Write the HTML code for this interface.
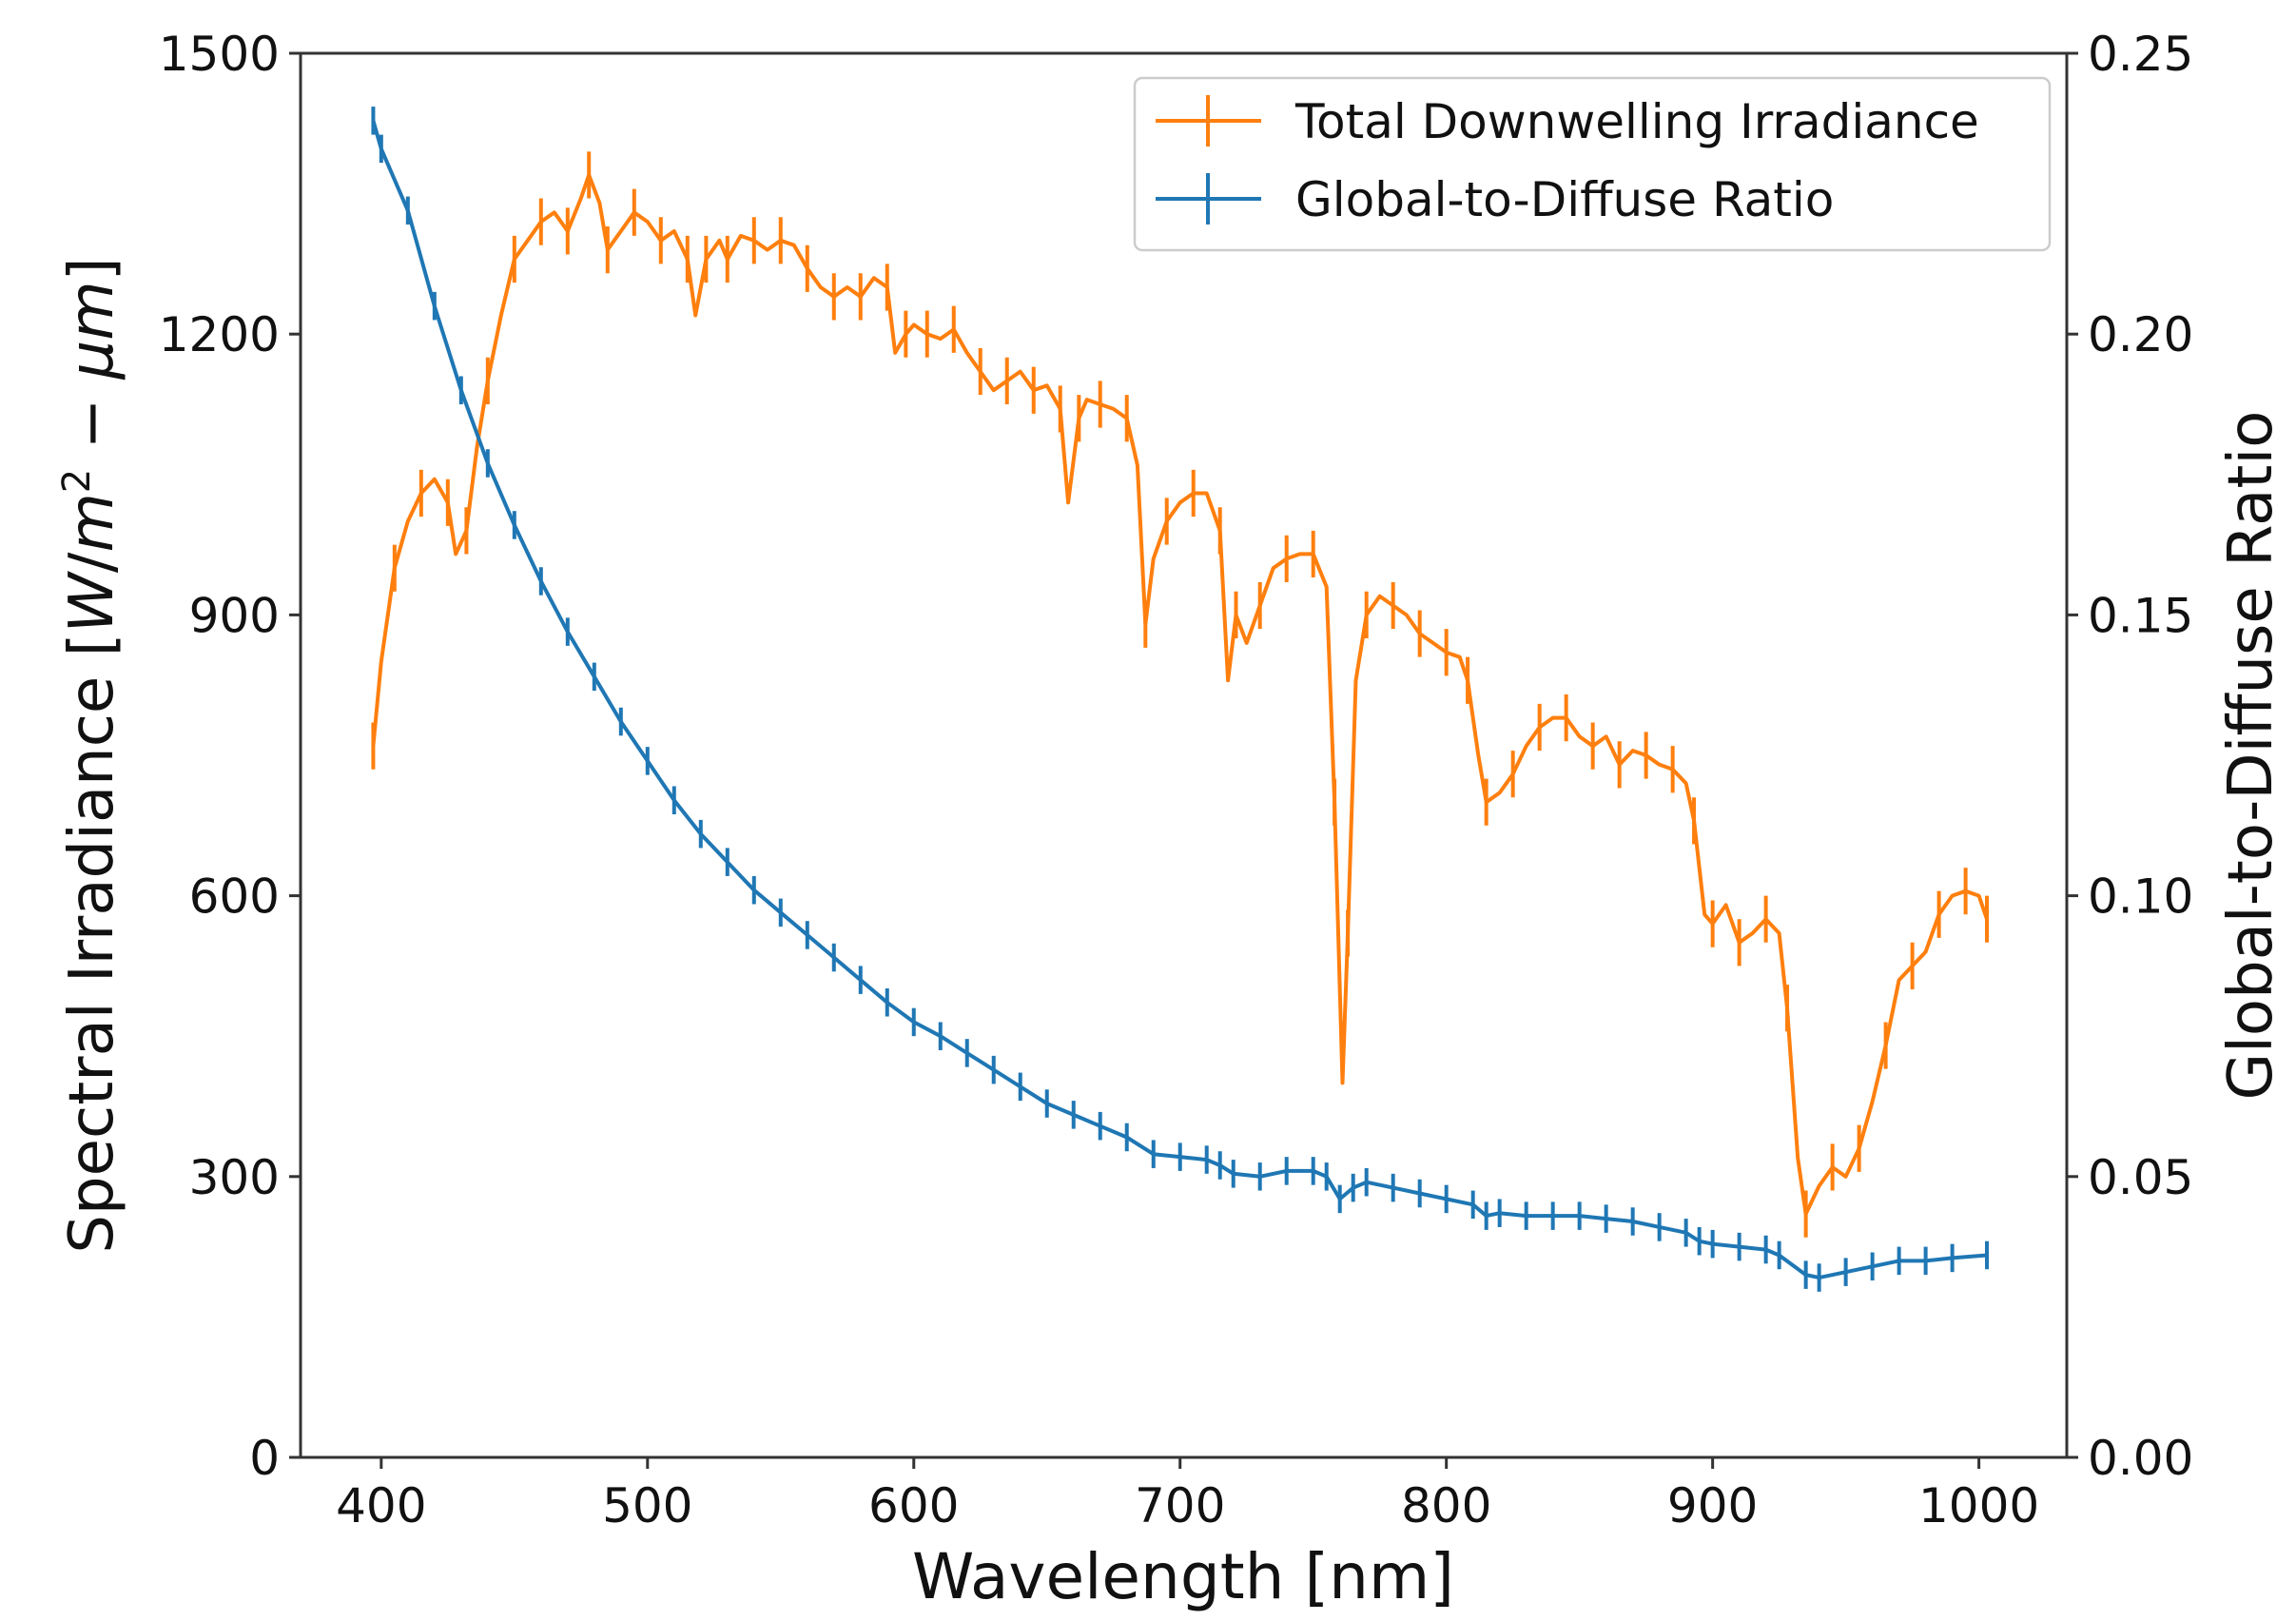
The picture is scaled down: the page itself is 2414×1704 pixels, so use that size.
<!DOCTYPE html>
<html><head><meta charset="utf-8"><style>
body{margin:0;background:#fff}
svg{display:block}
text{font-family:"DejaVu Sans","Liberation Sans",sans-serif;fill:#111}
</style></head><body>
<svg id="chart" width="2414" height="1704" viewBox="0 0 2414 1704" xmlns="http://www.w3.org/2000/svg">
<g id="marks"></g>
<g id="axes"></g>
<text x="1244" y="1680" font-size="66" text-anchor="middle">Wavelength [nm]</text>
<text transform="translate(118,794) rotate(-90)" font-size="64" text-anchor="middle">Spectral Irradiance [<tspan font-style="italic">W</tspan>/<tspan font-style="italic">m</tspan><tspan font-size="40" dy="-24">2</tspan><tspan dy="24"> − </tspan><tspan font-style="italic">μm</tspan>]</text>
<text transform="translate(2388,794) rotate(-90)" font-size="64" text-anchor="middle">Global-to-Diffuse Ratio</text>
<g>
<rect x="1193" y="82" width="962" height="181" rx="8" fill="#fff" stroke="#ccc" stroke-width="2.5"/>
<g>
<line x1="1215" y1="127" x2="1326" y2="127" stroke="#ff7f0e" stroke-width="4"/>
<line x1="1270" y1="100" x2="1270" y2="154" stroke="#ff7f0e" stroke-width="4"/>
<text x="1362" y="145" font-size="50">Total Downwelling Irradiance</text></g>
<g>
<line x1="1215" y1="209" x2="1326" y2="209" stroke="#1f77b4" stroke-width="4"/>
<line x1="1270" y1="182" x2="1270" y2="236" stroke="#1f77b4" stroke-width="4"/>
<text x="1362" y="227" font-size="50">Global-to-Diffuse Ratio</text></g>
</g>
</svg>
<script>
const irrWl=[397,400,405,410,415,420,425,428,432,436,440,445,450,455,460,465,470,475,478,482,485,490,495,500,505,510,515,518,522,527,530,535,540,545,550,555,560,565,570,575,580,585,590,593,597,600,605,610,615,620,625,630,635,640,645,650,655,658,662,665,670,675,680,684,687,690,695,700,705,710,715,718,721,725,730,735,740,745,750,755,758,761,763,766,770,775,780,785,790,795,800,805,808,812,815,820,825,830,835,840,845,850,855,860,865,870,875,880,885,890,893,897,900,905,910,915,920,925,928,932,935,940,945,950,955,960,965,970,975,980,985,990,995,1000,1003];
const irrVal=[760,850,950,1000,1030,1045,1020,965,990,1080,1150,1220,1280,1300,1320,1330,1310,1345,1370,1340,1290,1310,1330,1320,1300,1310,1280,1220,1280,1300,1280,1305,1300,1290,1300,1295,1270,1250,1240,1250,1240,1260,1250,1180,1200,1210,1200,1195,1205,1180,1160,1140,1150,1160,1140,1145,1120,1020,1110,1130,1125,1120,1110,1060,890,960,1000,1020,1030,1030,990,830,900,870,910,950,960,965,965,930,700,400,560,830,900,920,910,900,880,870,860,855,830,750,700,710,730,760,780,790,790,770,760,770,740,755,750,740,735,720,680,580,570,590,550,560,575,560,480,320,260,290,310,300,330,380,440,510,525,540,580,600,605,600,575];
const ratWl=[397,400,410,420,430,440,450,460,470,480,490,500,510,520,530,540,550,560,570,580,590,600,610,620,630,640,650,660,670,680,690,700,710,715,720,730,740,750,755,760,765,770,780,790,800,810,815,820,830,840,850,860,870,880,890,895,900,910,920,925,935,940,950,960,970,980,990,1003];
const ratVal=[0.238,0.233,0.222,0.205,0.19,0.177,0.166,0.156,0.147,0.139,0.131,0.124,0.117,0.111,0.106,0.101,0.097,0.093,0.089,0.085,0.081,0.0775,0.075,0.072,0.069,0.066,0.063,0.061,0.059,0.057,0.054,0.0535,0.053,0.052,0.0505,0.05,0.051,0.051,0.05,0.046,0.048,0.049,0.048,0.047,0.046,0.045,0.043,0.0435,0.043,0.043,0.043,0.0425,0.042,0.041,0.04,0.0385,0.038,0.0375,0.037,0.036,0.0325,0.032,0.033,0.034,0.035,0.035,0.0355,0.036];
const irrErr=25, ratErr=0.0025;
const xTicks=[400,500,600,700,800,900,1000];
const yTicks=[0,300,600,900,1200,1500];
const y2Ticks=["0.00","0.05","0.10","0.15","0.20","0.25"];
const L=316,R=2173,T=56,B=1532,XMIN=369.7,XMAX=1033;
const xs=v=>L+(v-XMIN)/(XMAX-XMIN)*(R-L);
const ys=v=>B-v/1500*(B-T);
const y2s=v=>B-v/0.25*(B-T);
const NS="http://www.w3.org/2000/svg";
const marks=document.getElementById('marks'),axes=document.getElementById('axes');
function mk(tag,attrs,parent){const e=document.createElementNS(NS,tag);for(const k in attrs)e.setAttribute(k,attrs[k]);parent.appendChild(e);return e;}
function series(wl,val,sc,err,color,name,every){
  const g=mk('g',{},marks);
  
  
  const d=wl.map((w,i)=>(i?'L':'M')+xs(w).toFixed(1)+' '+sc(val[i]).toFixed(1)).join(' ');
  const p=mk('path',{d:d,fill:'none',stroke:color,'stroke-width':4,'stroke-linejoin':'round'},g);
  
  
  wl.forEach((w,i)=>{if(i%every)return;
    const e=mk('line',{x1:xs(w),x2:xs(w),y1:sc(val[i]-err),y2:sc(val[i]+err),stroke:color,'stroke-width':4},g);
    
    
  });
}
series(irrWl,irrVal,ys,irrErr,'#ff7f0e','irradiance-series',2);
series(ratWl,ratVal,y2s,ratErr,'#1f77b4','ratio-series',1);
const frame=mk('rect',{x:L,y:T,width:R-L,height:B-T,fill:'none',stroke:'#333','stroke-width':3},axes);


xTicks.forEach(v=>{
  mk('line',{x1:xs(v),x2:xs(v),y1:B,y2:B+12,stroke:'#333','stroke-width':3},axes);
  const t=mk('text',{x:xs(v),y:B+68,'font-size':50,'text-anchor':'middle'},axes);t.textContent=v;
  
  
});
yTicks.forEach(v=>{
  mk('line',{x1:L-12,x2:L,y1:ys(v),y2:ys(v),stroke:'#333','stroke-width':3},axes);
  const t=mk('text',{x:L-22,y:ys(v)+18,'font-size':50,'text-anchor':'end'},axes);t.textContent=v;
  
  
});
y2Ticks.forEach(s=>{const v=parseFloat(s);
  mk('line',{x1:R,x2:R+12,y1:y2s(v),y2:y2s(v),stroke:'#333','stroke-width':3},axes);
  const t=mk('text',{x:R+22,y:y2s(v)+18,'font-size':50},axes);t.textContent=s;
  
  
});
</script>
</body></html>
